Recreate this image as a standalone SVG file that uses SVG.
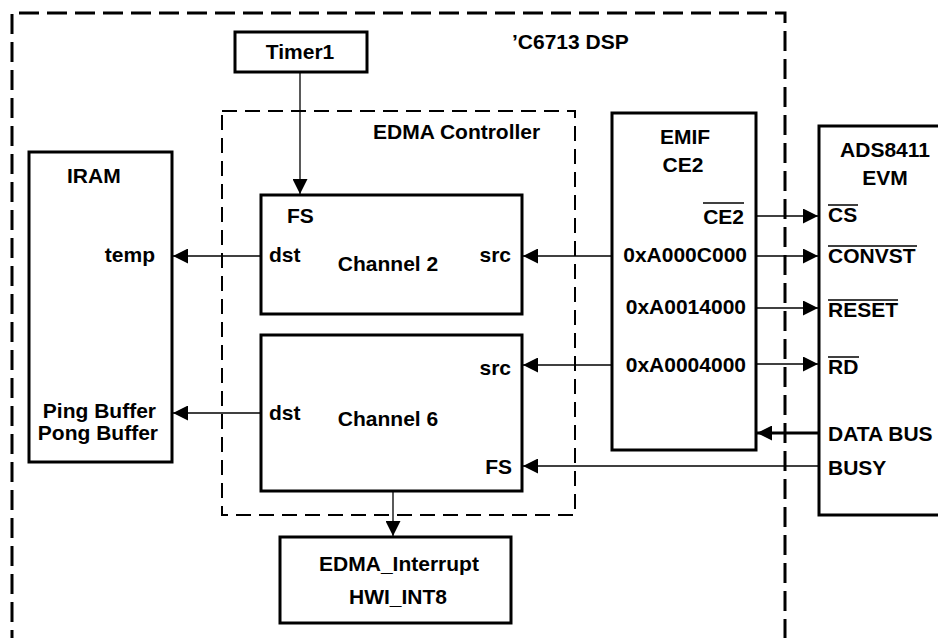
<svg xmlns="http://www.w3.org/2000/svg" width="938" height="638" viewBox="0 0 938 638">
<defs>
<style>
text{font-family:"Liberation Sans",Arial,sans-serif;font-weight:bold;font-size:21px;fill:#000}
.box{fill:#fff;stroke:#000;stroke-width:3}
.outer{fill:none;stroke:#000;stroke-width:3;stroke-dasharray:20 8}
.edma{fill:none;stroke:#000;stroke-width:2;stroke-dasharray:15 8}
.ln{stroke:#000;stroke-width:1.3;fill:none}
.thick{stroke:#000;stroke-width:3;fill:none}
.ov{stroke:#000;stroke-width:1.5}
.m{text-anchor:middle}
.e{text-anchor:end}
</style>
<marker id="ah" viewBox="0 0 15 15" refX="15" refY="7.5" markerWidth="15" markerHeight="15" markerUnits="userSpaceOnUse" orient="auto">
<path d="M0,0 L15,7.5 L0,15 Z" fill="#000"/>
</marker>
</defs>
<rect width="938" height="638" fill="#fff"/>

<g id="dsp">
<path class="outer" d="M12,650 V13 H785 V650"/>
<text x="512" y="49">’C6713 DSP</text>
</g>

<g id="edma-controller">
<rect class="edma" x="222" y="111" width="353" height="404"/>
<text x="373" y="139">EDMA Controller</text>
</g>

<g id="connectors">
<line class="ln" x1="300" y1="72" x2="300" y2="194" marker-end="url(#ah)"/>
<line class="ln" x1="261" y1="256" x2="173" y2="256" marker-end="url(#ah)"/>
<line class="ln" x1="261" y1="413" x2="173" y2="413" marker-end="url(#ah)"/>
<line class="ln" x1="612" y1="256" x2="523" y2="256" marker-end="url(#ah)"/>
<line class="ln" x1="612" y1="365" x2="523" y2="365" marker-end="url(#ah)"/>
<line class="ln" x1="756" y1="216" x2="818" y2="216" marker-end="url(#ah)"/>
<line class="ln" x1="756" y1="256" x2="818" y2="256" marker-end="url(#ah)"/>
<line class="ln" x1="756" y1="308" x2="818" y2="308" marker-end="url(#ah)"/>
<line class="ln" x1="756" y1="364" x2="818" y2="364" marker-end="url(#ah)"/>
<line class="thick" x1="819" y1="433" x2="757" y2="433" marker-end="url(#ah)"/>
<line class="ln" x1="819" y1="466" x2="523" y2="466" marker-end="url(#ah)"/>
<line class="ln" x1="393" y1="491" x2="393" y2="536" marker-end="url(#ah)"/>
</g>

<g id="timer1">
<rect class="box" x="235" y="32" width="132" height="40"/>
<text class="m" x="300" y="59">Timer1</text>
</g>

<g id="iram">
<rect class="box" x="29" y="152" width="143" height="310"/>
<text x="67" y="183">IRAM</text>
<text class="e" x="155" y="262">temp</text>
<text class="e" x="156" y="418">Ping Buffer</text>
<text class="e" x="158" y="440">Pong Buffer</text>
</g>

<g id="channel2">
<rect class="box" x="261" y="195" width="261" height="119"/>
<text x="287" y="223">FS</text>
<text x="269" y="262">dst</text>
<text class="m" x="388" y="271">Channel 2</text>
<text class="e" x="511" y="262">src</text>
</g>

<g id="channel6">
<rect class="box" x="261" y="335" width="261" height="156"/>
<text class="e" x="511" y="375">src</text>
<text x="269" y="420">dst</text>
<text class="m" x="388" y="426">Channel 6</text>
<text class="e" x="512" y="474">FS</text>
</g>

<g id="edma-interrupt">
<rect class="box" x="280" y="537" width="231" height="86"/>
<text class="m" x="399" y="571">EDMA_Interrupt</text>
<text class="m" x="398" y="604">HWI_INT8</text>
</g>

<g id="emif">
<rect class="box" x="612" y="113" width="144" height="337"/>
<text class="m" x="685" y="144">EMIF</text>
<text class="m" x="683" y="172">CE2</text>
<text class="e" x="744" y="224">CE2</text>
<line class="ov" x1="703" y1="203" x2="744" y2="203"/>
<text class="e" x="747" y="262">0xA000C000</text>
<text class="e" x="746" y="314">0xA0014000</text>
<text class="e" x="746" y="372">0xA0004000</text>
</g>

<g id="ads8411">
<rect class="box" x="819" y="126" width="130" height="389"/>
<text class="m" x="885" y="157">ADS8411</text>
<text class="m" x="885" y="185">EVM</text>
<text x="828" y="222">CS</text>
<line class="ov" x1="828" y1="205" x2="858" y2="205"/>
<text x="828" y="263">CONVST</text>
<line class="ov" x1="828" y1="246" x2="917" y2="246"/>
<text x="828" y="317">RESET</text>
<line class="ov" x1="828" y1="300" x2="898" y2="300"/>
<text x="828" y="374">RD</text>
<line class="ov" x1="828" y1="357" x2="859" y2="357"/>
<text x="828" y="441">DATA BUS</text>
<text x="828" y="475">BUSY</text>
</g>
</svg>
